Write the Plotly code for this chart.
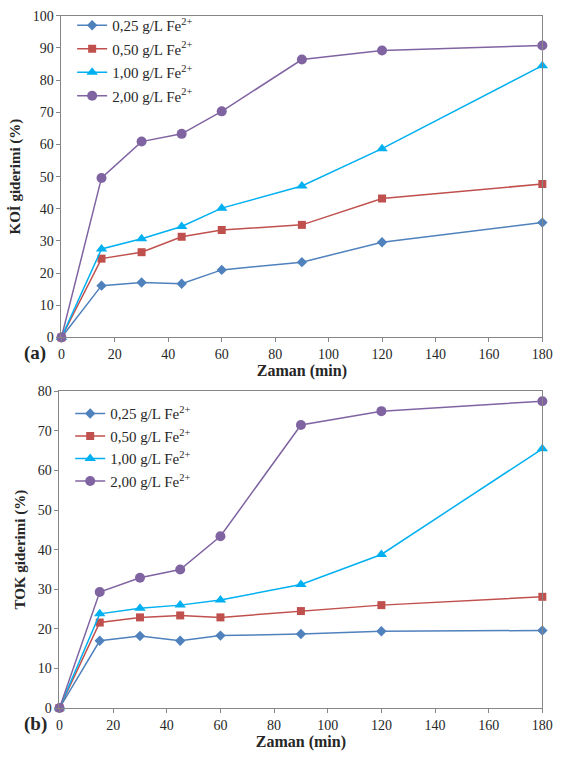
import plotly.graph_objects as go

time = [0, 15, 30, 45, 60, 90, 120, 180]
labels = ["0,25 g/L Fe<sup>2+</sup>", "0,50 g/L Fe<sup>2+</sup>",
          "1,00 g/L Fe<sup>2+</sup>", "2,00 g/L Fe<sup>2+</sup>"]

koi_025 = [0, 16.1, 17.1, 16.7, 21.0, 23.4, 29.6, 35.7]
koi_050 = [0, 24.5, 26.5, 31.3, 33.4, 35.0, 43.2, 47.7]
koi_100 = [0, 27.5, 30.7, 34.5, 40.2, 47.1, 58.7, 84.5]
koi_200 = [0, 49.6, 60.9, 63.3, 70.3, 86.4, 89.2, 90.8]

tok_025 = [0, 17.0, 18.2, 17.0, 18.3, 18.7, 19.4, 19.6]
tok_050 = [0, 21.6, 22.9, 23.4, 22.9, 24.5, 26.0, 28.1]
tok_100 = [0, 23.8, 25.2, 26.0, 27.3, 31.2, 38.8, 65.5]
tok_200 = [0, 29.3, 32.9, 35.0, 43.4, 71.5, 75.0, 77.5]

colors = ["#4F81BD", "#C0504D", "#00B0F0", "#8064A2"]
symbols = ["diamond", "square", "triangle-up", "circle"]
msizes = [8, 8, 10, 10]

FONT = "Liberation Serif, Times New Roman, serif"
W, H = 566, 769
TXT = "#262626"

fig = go.Figure()

top = [koi_025, koi_050, koi_100, koi_200]
bot = [tok_025, tok_050, tok_100, tok_200]

for i in range(4):
    fig.add_trace(go.Scatter(
        x=time, y=top[i], name=labels[i], mode="lines+markers",
        line=dict(color=colors[i], width=1.5),
        marker=dict(color=colors[i], symbol=symbols[i], size=msizes[i]),
        xaxis="x", yaxis="y", legend="legend", legendgroup=f"a{i}",
        cliponaxis=False))
for i in range(4):
    fig.add_trace(go.Scatter(
        x=time, y=bot[i], name=labels[i], mode="lines+markers",
        line=dict(color=colors[i], width=1.5),
        marker=dict(color=colors[i], symbol=symbols[i], size=msizes[i]),
        xaxis="x2", yaxis="y2", legend="legend2", legendgroup=f"b{i}",
        cliponaxis=False))

axis_common = dict(
    showgrid=False, zeroline=False, showline=True, linecolor="#868686",
    linewidth=1, mirror=True, ticks="outside", ticklen=4, tickcolor="#868686",
    tickfont=dict(family=FONT, size=14, color=TXT),
)
xtitle_font = dict(family=FONT, size=16, color=TXT, weight="bold")
ytitle_font = dict(family=FONT, size=15, color=TXT, weight="bold")

top_y0, top_y1 = 1 - 337 / H, 1 - 9 / H
bot_y0, bot_y1 = 1 - 715 / H, 1 - 392 / H

fig.update_layout(
    width=W, height=H,
    margin=dict(l=0, r=0, t=0, b=0),
    paper_bgcolor="white", plot_bgcolor="white",
    font=dict(family=FONT, color=TXT),
    xaxis=dict(domain=[59 / W, 553 / W], range=[0, 180], dtick=20, anchor="y",
               title=dict(text="Zaman (min)", font=xtitle_font, standoff=2),
               **axis_common),
    yaxis=dict(domain=[top_y0, top_y1], range=[0, 100], dtick=10, anchor="x",
               title=dict(text="KOİ giderimi (%)", font=ytitle_font, standoff=8),
               **axis_common),
    xaxis2=dict(domain=[57 / W, 553 / W], range=[0, 180], dtick=20, anchor="y2",
                title=dict(text="Zaman (min)", font=xtitle_font, standoff=2),
                **axis_common),
    yaxis2=dict(domain=[bot_y0, bot_y1], range=[0, 80], dtick=10, anchor="x2",
                title=dict(text="TOK giderimi (%)", font=ytitle_font, standoff=8),
                **axis_common),
    legend=dict(x=70 / W, y=1 - 2 / H, xanchor="left", yanchor="top",
                bgcolor="rgba(0,0,0,0)", font=dict(family=FONT, size=15, color=TXT),
                tracegroupgap=1, itemwidth=30),
    legend2=dict(x=68 / W, y=1 - 398 / H, xanchor="left", yanchor="top",
                 bgcolor="rgba(0,0,0,0)", font=dict(family=FONT, size=15, color=TXT),
                 tracegroupgap=0, itemwidth=30),
    showlegend=True,
    annotations=[
        dict(text="(a)", x=18 / W, y=1 - 353 / H, xref="paper", yref="paper",
             showarrow=False, font=dict(family=FONT, size=19, color=TXT, weight="bold")),
        dict(text="(b)", x=18 / W, y=1 - 745 / H, xref="paper", yref="paper",
             showarrow=False, font=dict(family=FONT, size=19, color=TXT, weight="bold")),
    ],
)

fig.write_html("out.html")
